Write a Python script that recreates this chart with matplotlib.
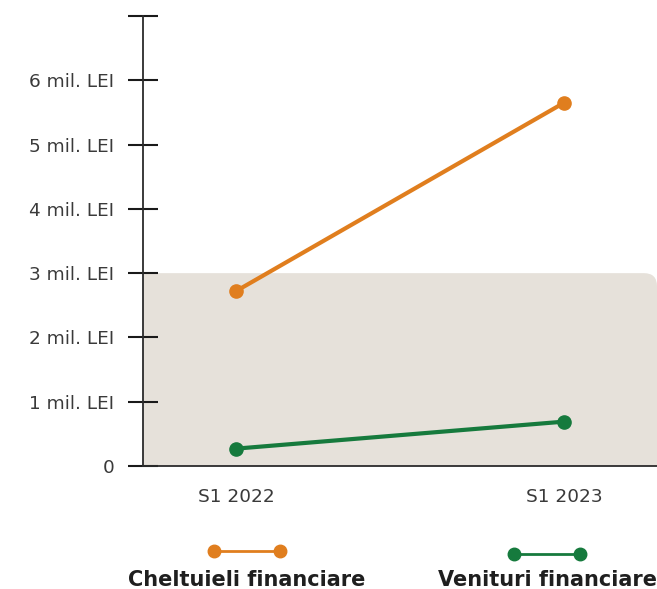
import matplotlib
matplotlib.use('Agg')
import matplotlib.pyplot as plt
from matplotlib.patches import FancyBboxPatch
from matplotlib.lines import Line2D

periods = ['S1 2022', 'S1 2023']
cheltuieli = [2.72, 5.65]
venituri = [0.27, 0.69]
y_ticks = [0, 1, 2, 3, 4, 5, 6, 7]
y_labels = ['0', '1 mil. LEI', '2 mil. LEI', '3 mil. LEI', '4 mil. LEI', '5 mil. LEI', '6 mil. LEI', '']
shade_level = 3

orange = '#E07E1E'
green = '#167A3D'
dark = '#2b2b2b'

plt.rcParams['font.family'] = ['DejaVu Sans']

fig = plt.figure(figsize=(6.57, 5.89), dpi=100)
ax = fig.add_axes([143 / 657, 123 / 589, 514 / 657, 450 / 589])

x = list(range(len(periods)))
ax.set_xlim(-0.2835, 1.2835)
ax.set_ylim(0, 7)

# shaded band under 3 mil, only top right corner rounded shows
w_px, h_px = 514, 450
bg = FancyBboxPatch((-0.1, -0.1), 1.1, shade_level / 7 + 0.1,
                    boxstyle='round,pad=0,rounding_size=%f' % (13 / w_px),
                    mutation_aspect=w_px / h_px,
                    transform=ax.transAxes, facecolor='#E6E1DA',
                    edgecolor='none', zorder=0)
ax.add_patch(bg)

ax.plot(x, cheltuieli, color=orange, lw=3, marker='o', ms=9.5, zorder=3)
ax.plot(x, venituri, color=green, lw=3, marker='o', ms=9.5, zorder=3)

for s in ['top', 'right']:
    ax.spines[s].set_visible(False)
for s in ['left', 'bottom']:
    ax.spines[s].set_color(dark)
    ax.spines[s].set_linewidth(1.3)

ax.set_yticks(y_ticks)
ax.set_yticklabels(y_labels)
ax.tick_params(axis='y', direction='inout', length=21, width=1.5, color='#1a1a1a',
               pad=10, labelsize=13.3, labelcolor='#3a3a3a')
ax.set_xticks(x)
ax.set_xticklabels(periods)
ax.tick_params(axis='x', length=0, pad=16, labelsize=13.3, labelcolor='#3a3a3a')
ax.set_facecolor('none')

# legend drawn under the chart
items = [('Cheltuieli financiare', orange, 214, 280, 551, 247),
         ('Venituri financiare', green, 514, 580, 554, 547)]
H, W = 589, 657
for label, col, x0, x1, yl, xc in items:
    fig.add_artist(Line2D([x0 / W, x1 / W], [1 - yl / H, 1 - yl / H],
                          transform=fig.transFigure, color=col, lw=2,
                          marker='o', ms=9))
    fig.text(xc / W, 1 - 580 / H, label, ha='center', va='center',
             fontsize=15, fontweight='bold', color='#1f1f1f')

fig.savefig('out.png', dpi=100)
